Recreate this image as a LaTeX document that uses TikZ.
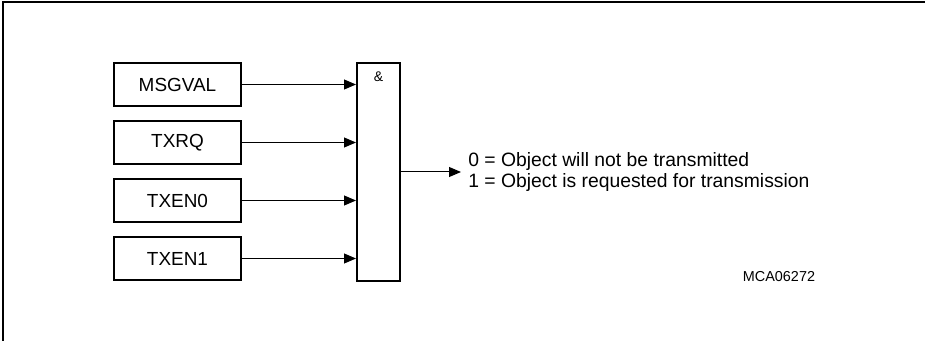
\documentclass[tikz,border=0pt]{standalone}
\usepackage{fontspec}
\setmainfont{Liberation Sans}
\usetikzlibrary{arrows.meta,positioning}

\begin{document}
\begin{tikzpicture}[x=0.75pt,y=-0.75pt,
  sigbox/.style={draw,line width=1.5pt,minimum width=95.25pt,minimum height=32.25pt,
    inner sep=0pt,font=\fontsize{14.2}{16}\selectfont},
  andgate/.style={draw,line width=1.5pt,minimum width=32.25pt,minimum height=163.5pt,inner sep=0pt},
  wire/.style={line width=0.75pt,-{Triangle[length=9pt,width=7.5pt]}}]
  % frame of the page: only top and left edge
  \useasboundingbox (0,0) rectangle (925,341);
  \draw[line width=1.1pt] (3,341) -- (3,2) -- (925,2);
  % the four input bits
  \node[sigbox] (msgval) at (177.5,84.5) {MSGVAL};
  \node[sigbox,below=9.75pt of msgval] (txrq) {TXRQ};
  \node[sigbox,below=9.75pt of txrq] (txen0) {TXEN0};
  \node[sigbox,below=9.75pt of txen0] (txen1) {TXEN1};
  % AND gate
  \node[andgate] (gate) at (378.5,172) {};
  \node[font=\fontsize{10.5}{12}\selectfont,below=4.2pt] (amp) at (gate.north) {\&};
  \foreach \s in {msgval,txrq,txen0,txen1}{
    \draw[wire] (\s.east) -- (\s.east -| gate.west);
  }
  % result
  \node[anchor=west,align=left,inner xsep=5.25pt,inner ysep=0pt,
    font=\fontsize{14.5}{15.75}\selectfont] (out) at (461,172)
    {0 = Object will not be transmitted\\1 = Object is requested for transmission};
  \draw[wire] (gate.east) -- (out.west);
  \node[font=\fontsize{10.8}{12}\selectfont] (mca) at (779,277) {MCA06272};
\end{tikzpicture}
\end{document}
